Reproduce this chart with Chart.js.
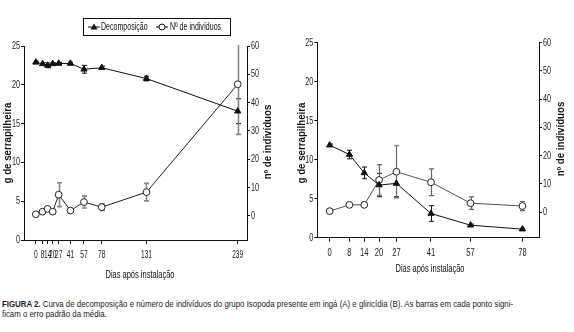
<!DOCTYPE html>
<html><head><meta charset="utf-8">
<script src="https://cdn.jsdelivr.net/npm/chart.js@4"></script>
<style>
html,body{margin:0;padding:0;background:#fff;width:574px;height:332px;overflow:hidden}
#cA{position:absolute;left:0;top:0}
#cB{position:absolute;left:285px;top:0}
#cap{position:absolute;left:2px;top:299px;font-family:'Liberation Sans',Arial,sans-serif;font-size:9.5px;line-height:9.6px;color:#222;white-space:nowrap;transform-origin:0 0}
</style></head>
<body>
<canvas id="cA" width="285" height="285"></canvas>
<canvas id="cB" width="289" height="285"></canvas>
<div id="cap"><b>FIGURA 2.</b> Curva de decomposição e número de indivíduos do grupo Isopoda presente em ingá (A) e gliricídia (B). As barras em cada ponto signi-<br>ficam o erro padrão da média.</div>
<script>
const FONT = "'Liberation Sans',Arial,sans-serif";

// ---- Chart A (ingá) ----
const daysA = [0, 8, 14, 20, 27, 41, 57, 78, 131, 239];
const decompA = [22.9, 22.7, 22.5, 22.7, 22.75, 22.75, 22.0, 22.2, 20.8, 16.6];
const decompErrA = [0.15, 0.15, 0.3, 0.15, 0.15, 0.15, 0.5, 0.2, 0.3, 1.6];
const indivA = [0.6, 1.5, 2.5, 1.5, 7.5, 1.9, 4.9, 3.1, 8.4, 46.5];
const indivErrA = [0.3, 0.3, 0.4, 0.3, 4.2, 0.4, 2.1, 1.2, 3.1, 17.7];

// ---- Chart B (gliricídia) ----
const daysB = [0, 8, 14, 20, 27, 41, 57, 78];
const decompB = [11.85, 10.65, 8.3, 6.75, 6.95, 3.1, 1.6, 1.1];
const decompErrB = [0.15, 0.55, 0.75, 1.5, 1.7, 1.0, 0.15, 0.1];
const indivB = [0.4, 2.6, 2.6, 11.4, 14.3, 10.6, 3.2, 2.2];
const indivErrB = [0.3, 0.3, 0.3, 5.4, 9.2, 4.7, 2.2, 1.6];

const leftTicks = [0, 5, 10, 15, 20, 25];
const rightTicks = [0, 10, 20, 30, 40, 50, 60];

const seriesNames = ['Decomposição', 'Nº de indivíduos'];
const yTitle = 'g de serrapilheira';
const y1Title = 'nº de indivíduos';
const xTitle = 'Dias após instalação';

// condensed text rendering (the original uses a narrow typeface)
const SX = 0.66;
const P = CanvasRenderingContext2D.prototype;
const rawFill = P.fillText, rawMeasure = P.measureText;
P.fillText = function (t, x, y, mw) {
  const s = this.__sx || SX;
  this.save(); this.translate(x, y); this.scale(s, 1); rawFill.call(this, t, 0, 0); this.restore();
};
P.measureText = function (t) {
  const m = rawMeasure.call(this, t), s = this.__sx || SX;
  return { width: m.width * s, actualBoundingBoxAscent: m.actualBoundingBoxAscent, actualBoundingBoxDescent: m.actualBoundingBoxDescent,
    actualBoundingBoxLeft: m.actualBoundingBoxLeft * s, actualBoundingBoxRight: m.actualBoundingBoxRight * s };
};

const errPlugin = {
  id: 'errbars',
  beforeDatasetsDraw(chart) {
    const ctx = chart.ctx, a = chart.chartArea;
    ctx.save();
    ctx.beginPath();
    ctx.rect(a.left, a.top - 1, a.right - a.left, a.bottom - a.top + 1);
    ctx.clip();
    chart.data.datasets.forEach(ds => {
      if (!ds.errors) return;
      const xs = chart.scales.x, ys = chart.scales[ds.yAxisID];
      ctx.strokeStyle = ds.errColor;
      ctx.lineWidth = ds.errWidth || 1;
      ds.data.forEach((p, j) => {
        const e = ds.errors[j];
        if (!e) return;
        const px = Math.round(xs.getPixelForValue(p.x)) + 0.5;
        const y1 = ys.getPixelForValue(p.y + e), y2 = ys.getPixelForValue(p.y - e);
        ctx.beginPath();
        ctx.moveTo(px, y1); ctx.lineTo(px, y2);
        ctx.moveTo(px - 2.5, y1); ctx.lineTo(px + 2.5, y1);
        ctx.moveTo(px - 2.5, y2); ctx.lineTo(px + 2.5, y2);
        ctx.stroke();
      });
    });
    ctx.restore();
  }
};

function decorPlugin(o) {
  return {
    id: 'decor',
    afterDraw(chart) {
      const ctx = chart.ctx;
      ctx.save();
      ctx.fillStyle = '#111';
      ctx.textAlign = 'center';
      ctx.textBaseline = 'middle';
      ctx.__sx = 0.97;
      ctx.font = 'bold 10px ' + FONT;
      ctx.save(); ctx.translate(o.ly[0], o.ly[1]); ctx.rotate(-Math.PI / 2); ctx.fillText(yTitle, 0, 0); ctx.restore();
      ctx.save(); ctx.translate(o.ry[0], o.ry[1]); ctx.rotate(-Math.PI / 2); ctx.fillText(y1Title, 0, 0); ctx.restore();
      ctx.__sx = 0.68;
      ctx.font = '11px ' + FONT;
      ctx.fillText(xTitle, o.xt[0], o.xt[1]);
      if (o.legend) {
        const L = o.legend;
        ctx.strokeStyle = '#111'; ctx.lineWidth = 1;
        ctx.strokeRect(L.x + 0.5, L.y + 0.5, L.w, L.h);
        const cy = L.y + L.h / 2 + 0.5;
        ctx.__sx = 0.64;
        ctx.font = '11px ' + FONT;
        ctx.textAlign = 'left';
        ctx.beginPath(); ctx.moveTo(L.x + 5, cy); ctx.lineTo(L.x + 17, cy); ctx.stroke();
        ctx.beginPath(); ctx.moveTo(L.x + 11, cy - 3.5); ctx.lineTo(L.x + 14.5, cy + 2.5); ctx.lineTo(L.x + 7.5, cy + 2.5); ctx.closePath(); ctx.fill();
        ctx.fillText(seriesNames[0], L.x + 18, cy);
        const x2 = L.x + 73;
        ctx.beginPath(); ctx.moveTo(x2, cy); ctx.lineTo(x2 + 12, cy); ctx.stroke();
        ctx.beginPath(); ctx.arc(x2 + 6, cy, 3, 0, Math.PI * 2); ctx.fillStyle = '#fff'; ctx.fill(); ctx.stroke();
        ctx.fillStyle = '#111';
        ctx.fillText(seriesNames[1], x2 + 14, cy);
      }
      ctx.__sx = 0;
      ctx.restore();
    }
  };
}

function build(id, days, dec, decErr, ind, indErr, o) {
  const tickFont = { family: FONT, size: 11 };
  const axisGrid = { drawOnChartArea: false, drawTicks: true, tickLength: 3, color: '#111' };
  const border = { display: true, color: '#111', width: 1 };
  return new Chart(document.getElementById(id), {
    type: 'line',
    data: {
      datasets: [
        {
          label: seriesNames[0], yAxisID: 'y',
          data: days.map((d, i) => ({ x: d, y: dec[i] })),
          borderColor: '#111', borderWidth: 1, pointStyle: 'triangle', pointRadius: 3.6,
          pointBackgroundColor: '#111', pointBorderColor: '#111', pointBorderWidth: 1,
          errors: decErr, errColor: '#111', errWidth: 1
        },
        {
          label: seriesNames[1], yAxisID: 'y1',
          data: days.map((d, i) => ({ x: d, y: ind[i] })),
          borderColor: o.indLine, borderWidth: 1, pointStyle: 'circle', pointRadius: 3.4,
          pointBackgroundColor: '#fff', pointBorderColor: '#222', pointBorderWidth: 1,
          errors: indErr, errColor: o.indErrColor, errWidth: o.indErrWidth
        }
      ]
    },
    options: {
      responsive: false, animation: false,
      layout: { padding: { top: o.top, left: 0, right: 0, bottom: 0 } },
      plugins: { legend: { display: false }, tooltip: { enabled: false } },
      scales: {
        x: {
          type: 'linear', min: o.xmin, max: o.xmax,
          afterBuildTicks: s => { s.ticks = days.map(v => ({ value: v })); },
          afterFit: s => { s.height = o.xh; },
          ticks: { autoSkip: false, maxRotation: 0, font: { family: FONT, size: o.xfs }, color: '#222', padding: o.xpad, callback: v => String(v) },
          grid: Object.assign({}, axisGrid, { tickLength: 4 }), border
        },
        y: {
          position: 'left', min: 0, max: 25,
          afterBuildTicks: s => { s.ticks = leftTicks.map(v => ({ value: v })); },
          afterFit: s => { s.width = o.yw; },
          ticks: { font: tickFont, color: '#222', padding: 1 },
          grid: axisGrid, border
        },
        y1: {
          position: 'right', min: o.y1min, max: 60,
          afterBuildTicks: s => { s.ticks = rightTicks.map(v => ({ value: v })); },
          afterFit: s => { s.width = o.y1w; },
          ticks: { font: tickFont, color: '#222', padding: 1 },
          grid: axisGrid, border
        }
      }
    },
    plugins: [errPlugin, decorPlugin(o)]
  });
}

build('cA', daysA, decompA, decompErrA, indivA, indivErrA, {
  top: 46, xmin: -14, xmax: 250, xh: 45, yw: 24, y1w: 38, y1min: -8.5, xfs: 10, xpad: 5,
  indLine: '#222', indErrColor: '#888', indErrWidth: 1.6,
  ly: [8, 143], ry: [268, 142], xt: [140, 275],
  legend: { x: 83, y: 18, w: 147, h: 17 }
});
build('cB', daysB, decompB, decompErrB, indivB, indivErrB, {
  top: 42.5, xmin: -5, xmax: 84.7, xh: 47.3, yw: 32.3, y1w: 35, y1min: -9, xfs: 11.5, xpad: 4,
  indLine: '#555', indErrColor: '#666', indErrWidth: 1.2,
  ly: [17, 143], ry: [276, 139], xt: [145, 269]
});

// fit caption's first line to the original's width
const cap = document.getElementById('cap');
const w = cap.getBoundingClientRect().width;
cap.style.transform = 'scaleX(' + (511 / w) + ')';
</script>
</body></html>
